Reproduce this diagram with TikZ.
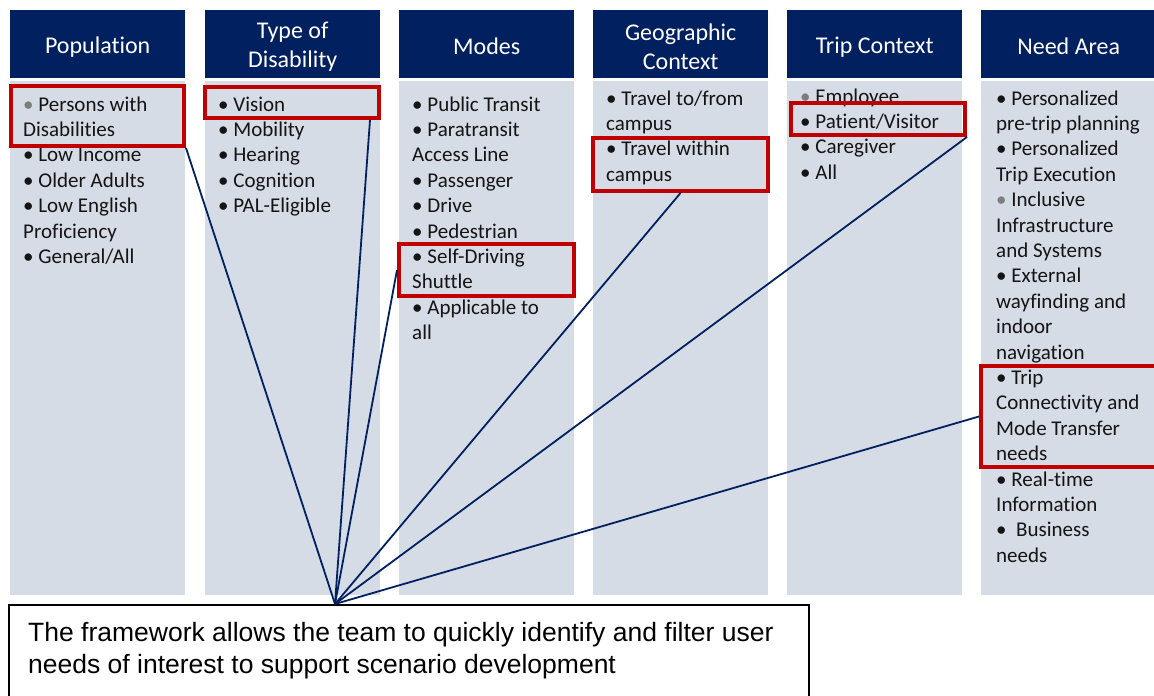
\documentclass[tikz,border=0pt]{standalone}
\usepackage{fontspec}
\setmainfont{Carlito}[Ligatures=NoCommon]
\newfontfamily\arialf{Liberation Sans}
\usetikzlibrary{calc}
\definecolor{navy}{RGB}{0,32,96}
\definecolor{bodyfill}{RGB}{214,220,229}
\definecolor{boxred}{RGB}{192,0,0}
\definecolor{txt}{RGB}{20,20,20}
\definecolor{bulgray}{RGB}{125,125,125}
\newcommand\gb{{\color{bulgray}•}}
\newcommand\colitems[4]{%
  \foreach \t [count=\i from 0] in {#4} {\node[item] (#1-\i) at (#2, #3+\i*25.4) {\t};}%
}
\newcommand\colhead[3]{%
  \node[header] (h#1) at (#2,10) {};
  \node[headtxt] (ht#1) at ($(h#1.center)+(0,2.5)$) {#3};
}
\begin{document}
\begin{tikzpicture}[x=1pt,y=-1pt,
  header/.style={fill=navy, minimum width=175, minimum height=68, inner sep=0, anchor=north west},
  headtxt/.style={text=white, inner sep=0, align=center, font=\fontsize{24}{29}\selectfont},
  colbody/.style={fill=bodyfill, minimum width=175, minimum height=514, inner sep=0, anchor=north west},
  item/.style={anchor=base west, inner sep=0, text=txt, font=\fontsize{21}{25.4}\selectfont},
  redbox/.style={draw=boxred, line width=4, inner sep=0},
  link/.style={draw=navy, line width=1.8},
  notebox/.style={draw=black, line width=1.5, fill=white, anchor=north west, inner sep=0},
  notetext/.style={anchor=base west, inner sep=0, align=left, font=\arialf\fontsize{26.5}{32}\selectfont}
]
\useasboundingbox (0,0) rectangle (1154,696);
\fill[white] (0,0) rectangle (1154,696);

% columns
\colhead{1}{10}{Population}
\colhead{2}{205}{Type of\\Disability}
\colhead{3}{399}{Modes}
\colhead{4}{593}{Geographic\\Context}
\colhead{5}{787}{Trip Context}
\colhead{6}{981}{Need Area}

\node[colbody] (b1) at (10,81) {};
\node[colbody] (b2) at (205,81) {};
\node[colbody] (b3) at (399,81) {};
\node[colbody] (b4) at (593,81) {};
\node[colbody] (b5) at (787,81) {};
\node[colbody] (b6) at (981,81) {};

\colitems{c1}{23}{111}{{\gb{} Persons with},Disabilities,{• Low Income},{• Older Adults},{• Low English},Proficiency,{• General/All}}
\colitems{c2}{218}{111}{{• Vision},{• Mobility},{• Hearing},{• Cognition},{• PAL-Eligible}}
\colitems{c3}{412}{111}{{• Public Transit},{• Paratransit},{Access Line},{• Passenger},{• Drive},{• Pedestrian},{• Self-Driving},Shuttle,{• Applicable to},all}
\colitems{c4}{606}{105}{{• Travel to/from},campus,{• Travel within},campus}
\colitems{c5}{800}{103}{{\gb{} Employee},{• Patient/Visitor},{• Caregiver},{• All}}
\colitems{c6}{996}{105}{{• Personalized},{pre-trip planning},{• Personalized},{Trip Execution},{\gb{} Inclusive},Infrastructure,{and Systems},{• External},{wayfinding and},indoor,navigation,{• Trip},{Connectivity and},{Mode Transfer},needs,{• Real-time},Information,{•\ \ Business},needs}

% highlight boxes
\node[redbox, minimum width=173, minimum height=60] (rb1) at (97.5,116) {};
\node[redbox, minimum width=174, minimum height=31] (rb2) at (292,102.5) {};
\node[redbox, minimum width=175, minimum height=52] (rb3) at (486.5,270) {};
\node[redbox, minimum width=175, minimum height=53] (rb4) at (680.5,164.5) {};
\node[redbox, minimum width=174, minimum height=32] (rb5) at (878,119) {};
\node[redbox, minimum width=179, minimum height=101] (rb6) at (1070.5,416.5) {};

% note box
\node[notebox, minimum width=800, minimum height=100] (note) at (8,604) {};
\node[notetext] (notetxt) at (28,673) {The framework allows the team to quickly identify and filter user\\needs of interest to support scenario development};

% connectors
\coordinate (hub) at (335,604);
\draw[link] (hub) -- (rb1.south east);
\draw[link] (hub) -- ($(rb2.south east)+(-11,0)$);
\draw[link] (hub) -- (rb3.west);
\draw[link] (hub) -- (rb4.south);
\draw[link] (hub) -- (rb5.south east);
\draw[link] (hub) -- (rb6.west);
\end{tikzpicture}
\end{document}
